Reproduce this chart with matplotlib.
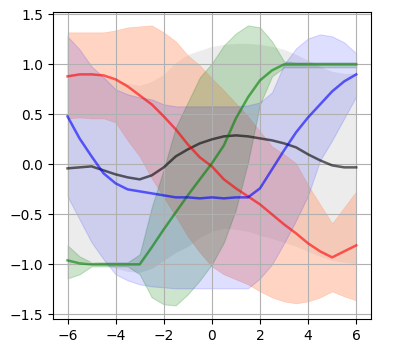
import numpy as np
import matplotlib
matplotlib.use("Agg")
import matplotlib.pyplot as plt

# сетка по x
x = np.arange(-6, 6.01, 0.5)

# серая серия
gray_mean = [-0.04, -0.03, -0.02, -0.06, -0.10, -0.13, -0.15, -0.11, -0.03, 0.08, 0.15, 0.21, 0.25,
             0.28, 0.29, 0.28, 0.26, 0.24, 0.21, 0.17, 0.10, 0.04, -0.01, -0.03, -0.03]
gray_upper = [0.90, 0.91, 0.92, 0.88, 0.84, 0.81, 0.79, 0.83, 0.90, 1.02, 1.10, 1.14, 1.18,
              1.20, 1.21, 1.21, 1.20, 1.18, 1.15, 1.10, 1.04, 0.98, 0.93, 0.91, 0.91]
gray_lower = [-0.99, -0.98, -0.97, -1.00, -1.04, -1.07, -1.08, -1.04, -0.96, -0.88, -0.82, -0.73, -0.67,
              -0.64, -0.65, -0.67, -0.71, -0.74, -0.78, -0.82, -0.87, -0.92, -0.96, -0.98, -0.99]

# красная серия
red_mean = [0.88, 0.90, 0.90, 0.89, 0.85, 0.78, 0.69, 0.60, 0.48, 0.35, 0.20, 0.07, -0.02,
            -0.15, -0.24, -0.32, -0.40, -0.50, -0.60, -0.69, -0.79, -0.87, -0.93, -0.87, -0.81]
red_upper = [1.32, 1.32, 1.32, 1.32, 1.34, 1.37, 1.38, 1.39, 1.32, 1.23, 1.09, 0.99, 0.86,
             0.74, 0.61, 0.48, 0.33, 0.18, 0.10, 0.01, -0.21, -0.40, -0.59, -0.43, -0.27]
red_lower = [0.46, 0.47, 0.46, 0.46, 0.42, 0.24, 0.08, -0.14, -0.33, -0.52, -0.72, -0.88, -1.02,
             -1.10, -1.15, -1.20, -1.27, -1.33, -1.37, -1.39, -1.37, -1.33, -1.27, -1.32, -1.36]

# зелёная серия
green_mean = [-0.96, -0.99, -1.00, -1.00, -1.00, -1.00, -1.00, -0.83, -0.65, -0.48, -0.31, -0.15, 0.01,
              0.19, 0.46, 0.67, 0.84, 0.94, 1.00, 1.00, 1.00, 1.00, 1.00, 1.00, 1.00]
green_upper = [-0.81, -0.92, -0.98, -0.98, -0.98, -0.98, -0.90, -0.43, -0.05, 0.37, 0.62, 0.87, 1.01,
               1.19, 1.31, 1.39, 1.37, 1.23, 1.03, 1.02, 1.02, 1.02, 1.02, 1.02, 1.02]
green_lower = [-1.14, -1.10, -1.02, -1.02, -1.02, -1.02, -1.10, -1.33, -1.40, -1.41, -1.30, -1.16, -1.00,
               -0.78, -0.45, 0.02, 0.60, 0.88, 0.97, 0.97, 0.97, 0.97, 0.97, 0.97, 0.97]

# синяя серия
blue_mean = [0.48, 0.26, 0.08, -0.09, -0.19, -0.25, -0.27, -0.29, -0.31, -0.33, -0.33, -0.34, -0.33,
             -0.34, -0.33, -0.33, -0.24, -0.05, 0.14, 0.32, 0.47, 0.60, 0.73, 0.83, 0.90]
blue_upper = [1.28, 1.15, 0.98, 0.87, 0.75, 0.70, 0.67, 0.65, 0.60, 0.58, 0.58, 0.58, 0.58,
              0.58, 0.58, 0.59, 0.62, 0.72, 1.00, 1.16, 1.26, 1.30, 1.28, 1.22, 1.11]
blue_lower = [-0.32, -0.55, -0.78, -0.95, -1.10, -1.16, -1.20, -1.22, -1.23, -1.24, -1.24, -1.24, -1.24,
              -1.24, -1.24, -1.24, -1.14, -1.00, -0.79, -0.56, -0.31, 0.04, 0.24, 0.46, 0.68]

fig = plt.figure(figsize=(3.96, 3.51), dpi=100)
ax = fig.add_axes([0.134, 0.091, 0.802, 0.876])

ax.fill_between(x, gray_lower, gray_upper, color="gray", alpha=0.15, linewidth=0)
ax.plot(x, gray_mean, color="black", alpha=0.6, linewidth=1.8)

ax.fill_between(x, red_lower, red_upper, color="lightsalmon", alpha=0.45, linewidth=0.5, edgecolor="lightsalmon")
ax.plot(x, red_mean, color="red", alpha=0.6, linewidth=1.8)

ax.fill_between(x, green_lower, green_upper, color="green", alpha=0.2, linewidth=0.8, edgecolor="green")
ax.plot(x, green_mean, color="green", alpha=0.6, linewidth=1.8)

ax.fill_between(x, blue_lower, blue_upper, color="blue", alpha=0.13, linewidth=0.8, edgecolor="blue")
ax.plot(x, blue_mean, color="blue", alpha=0.6, linewidth=1.8)

ax.set_xlim(-6.6, 6.6)
ax.set_ylim(-1.547, 1.528)
ax.set_xticks([-6, -4, -2, 0, 2, 4, 6])
ax.set_yticks([-1.5, -1.0, -0.5, 0.0, 0.5, 1.0, 1.5])
ax.grid()

fig.savefig("out.png", dpi=100)
